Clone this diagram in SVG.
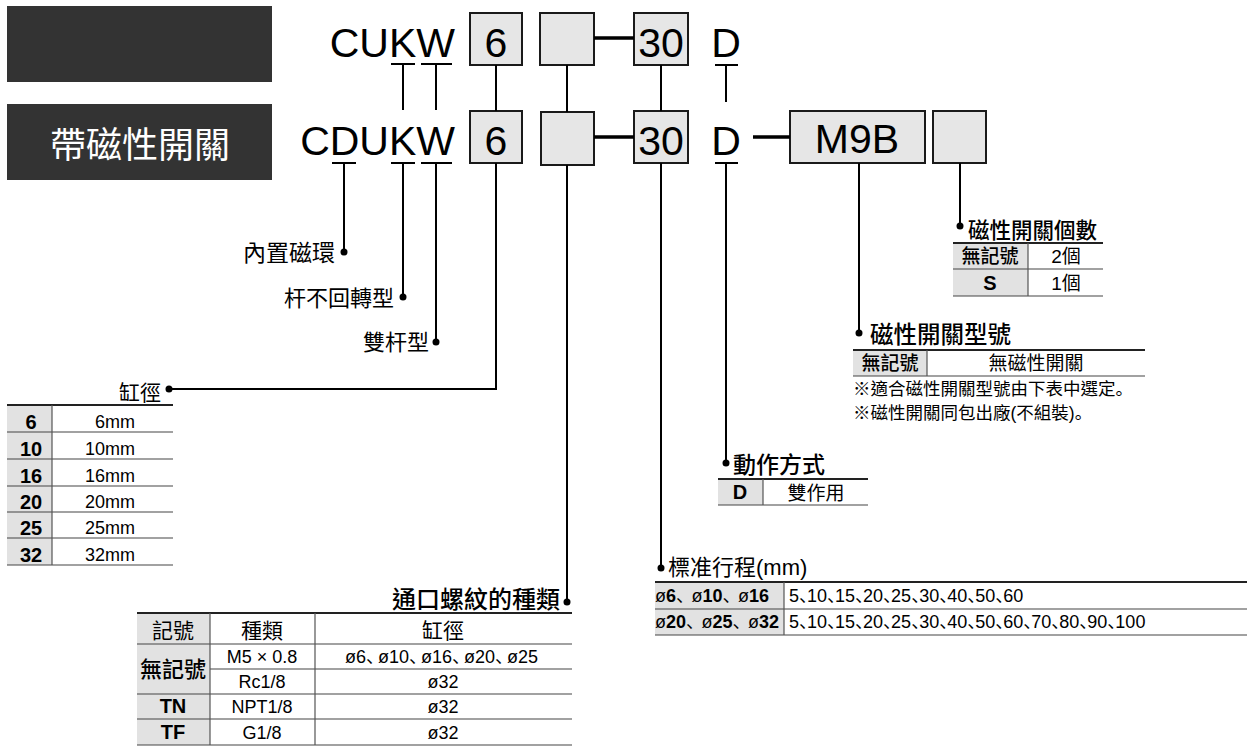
<svg xmlns="http://www.w3.org/2000/svg" width="1247" height="747" viewBox="0 0 1247 747">
<style>
text{font-family:"Liberation Sans","Noto Sans CJK TC",sans-serif;fill:#000}
.code{font-size:41px}
.lbl{font-size:22px}
.ttl{font-size:23px;font-weight:500}
.t{font-size:18px}
.tc{font-size:19px}
.tb{font-size:20px;font-weight:bold}
.b{font-weight:bold}
.k{font-weight:500}
.m{text-anchor:middle}
.e{text-anchor:end}
.cm{font-family:"Noto Sans CJK JP",sans-serif}
.c10{letter-spacing:-10px}
.c6{letter-spacing:-6px}
.c3{letter-spacing:-2.5px}
.note{font-size:17.5px}
.cn{stroke:#000;stroke-width:2;fill:none}
.thick{stroke:#000;stroke-width:3.5;fill:none}
.box{fill:#e6e6e6;stroke:#1a1a1a;stroke-width:2}
.hd{fill:#333}
.g{fill:#e2e2e2}
.top{stroke:#222;stroke-width:2.2}
.rl{stroke:#444;stroke-width:1.2}
.vl{stroke:#555;stroke-width:1.2}
.dot{fill:#000}
</style>

<g id="headers">
<rect class="hd" x="7" y="6" width="265" height="76"/>
<rect class="hd" x="7" y="104" width="265" height="76"/>
<text x="140" y="158" text-anchor="middle" style="font-size:36px;fill:#fff">帶磁性開關</text>
</g>

<g id="code-top">
<text class="code e" x="455" y="57">CUKW</text>
<rect class="box" x="470" y="13" width="52" height="52"/>
<text class="code m" x="496" y="57">6</text>
<rect class="box" x="540" y="13" width="54" height="52"/>
<rect class="box" x="634" y="13" width="54" height="52"/>
<text class="code m" x="661" y="57">30</text>
<text class="code m" x="726" y="57">D</text>
</g>

<g id="code-bottom">
<text class="code e" x="455" y="155">CDUKW</text>
<rect class="box" x="470" y="111" width="52" height="52"/>
<text class="code m" x="496" y="155">6</text>
<rect class="box" x="541" y="112" width="53" height="53"/>
<rect class="box" x="634" y="111" width="54" height="52"/>
<text class="code m" x="661" y="155">30</text>
<text class="code m" x="726" y="155">D</text>
<rect class="box" x="790" y="111" width="135" height="52"/>
<text class="code m" x="857" y="153">M9B</text>
<rect class="box" x="933" y="111" width="53" height="52"/>
</g>

<g id="connectors">
<path class="thick" d="M594 38H634 M594 137H634 M753 137H790"/>
<path class="cn" d="M391 64H415 M403 64V110 M421 64H452 M436 64V110 M496 65V111 M567 65V112 M661 65V111 M715 65H738 M726 65V102"/>
<path class="cn" d="M332 163H356 M344 163V252 M391 163H415 M403 163V297 M421 163H452 M436 163V342 M496 163V389H169 M567 165V602 M661 163V568 M715 163H738 M726 163V463 M859 163V333 M960 163V226"/>
<circle class="dot" cx="344" cy="252" r="3.5"/>
<circle class="dot" cx="403" cy="297" r="3.5"/>
<circle class="dot" cx="436" cy="342" r="3.5"/>
<circle class="dot" cx="169" cy="389" r="3.5"/>
<circle class="dot" cx="567" cy="602" r="3.5"/>
<circle class="dot" cx="661" cy="568" r="3.5"/>
<circle class="dot" cx="726" cy="463" r="3.5"/>
<circle class="dot" cx="859" cy="333" r="3.5"/>
<circle class="dot" cx="960" cy="226" r="3.5"/>
</g>

<g id="labels">
<text class="e" x="335" y="261" style="font-size:23px">內置磁環</text>
<text class="lbl e" x="394" y="306">杆不回轉型</text>
<text class="lbl e" x="429" y="350">雙杆型</text>
</g>

<g id="bore-table">
<text class="e" x="161" y="400" style="font-size:21px">缸徑</text>
<rect class="g" x="7" y="405" width="45" height="160"/>
<line class="top" x1="7" y1="405" x2="173" y2="405"/>
<path class="rl" d="M7 432H173 M7 459H173 M7 486H173 M7 512H173 M7 538H173 M7 565H173"/>
<line class="vl" x1="52" y1="405" x2="52" y2="565"/>
<g class="tb m">
<text x="31" y="429">6</text>
<text x="31" y="456">10</text>
<text x="31" y="483">16</text>
<text x="31" y="509">20</text>
<text x="31" y="535">25</text>
<text x="31" y="562">32</text>
</g>
<g class="t e">
<text x="135" y="428">6mm</text>
<text x="135" y="455">10mm</text>
<text x="135" y="482">16mm</text>
<text x="135" y="508">20mm</text>
<text x="135" y="534">25mm</text>
<text x="135" y="561">32mm</text>
</g>
</g>

<g id="port-table">
<text class="e" x="560" y="608" style="font-size:24px;font-weight:500">通口螺紋的種類</text>
<rect class="g" x="137" y="613" width="73" height="132"/>
<line class="top" x1="137" y1="613" x2="572" y2="613"/>
<path class="rl" d="M137 644H572 M210 669H572 M137 694H572 M137 719H572 M137 745H572"/>
<path class="vl" d="M210 613V745 M315 613V745"/>
<g style="font-size:21px" class="m">
<text x="173" y="638">記號</text>
<text x="262" y="638">種類</text>
<text x="443" y="638">缸徑</text>
</g>
<text class="m k" x="173" y="677" style="font-size:22px">無記號</text>
<text class="tb m" x="173" y="713">TN</text>
<text class="tb m" x="173" y="739">TF</text>
<g class="t m">
<text x="262" y="663">M5 × 0.8</text>
<text x="262" y="688">Rc1/8</text>
<text x="262" y="713">NPT1/8</text>
<text x="262" y="739">G1/8</text>
<text x="443" y="688">ø32</text>
<text x="443" y="713">ø32</text>
<text x="443" y="739">ø32</text>
</g>
<text class="t" x="345" y="663">ø6<tspan class="cm c6">、</tspan>ø10<tspan class="cm c6">、</tspan>ø16<tspan class="cm c6">、</tspan>ø20<tspan class="cm c6">、</tspan>ø25</text>
</g>

<g id="stroke-table">
<text x="668" y="575" style="font-size:22px">標准行程(mm)</text>
<rect class="g" x="655" y="582" width="129" height="53"/>
<line class="top" x1="655" y1="582" x2="1247" y2="582"/>
<path class="rl" d="M655 609H1247 M655 635H1247"/>
<line class="vl" x1="784" y1="582" x2="784" y2="635"/>
<text class="t" x="655" y="602">ø<tspan class="b">6</tspan><tspan class="cm c3">、</tspan>ø<tspan class="b">10</tspan><tspan class="cm c3">、</tspan>ø<tspan class="b">16</tspan></text>
<text class="t" x="655" y="628">ø<tspan class="b">20</tspan><tspan class="cm c3">、</tspan>ø<tspan class="b">25</tspan><tspan class="cm c3">、</tspan>ø<tspan class="b">32</tspan></text>
<text class="t" x="789" y="602">5<tspan class="cm c10">、</tspan>10<tspan class="cm c10">、</tspan>15<tspan class="cm c10">、</tspan>20<tspan class="cm c10">、</tspan>25<tspan class="cm c10">、</tspan>30<tspan class="cm c10">、</tspan>40<tspan class="cm c10">、</tspan>50<tspan class="cm c10">、</tspan>60</text>
<text class="t" x="789" y="628">5<tspan class="cm c10">、</tspan>10<tspan class="cm c10">、</tspan>15<tspan class="cm c10">、</tspan>20<tspan class="cm c10">、</tspan>25<tspan class="cm c10">、</tspan>30<tspan class="cm c10">、</tspan>40<tspan class="cm c10">、</tspan>50<tspan class="cm c10">、</tspan>60<tspan class="cm c10">、</tspan>70<tspan class="cm c10">、</tspan>80<tspan class="cm c10">、</tspan>90<tspan class="cm c10">、</tspan>100</text>
</g>

<g id="action-table">
<text class="ttl" x="733" y="473">動作方式</text>
<rect class="g" x="718" y="479" width="45" height="26"/>
<line class="top" x1="718" y1="479" x2="868" y2="479"/>
<line class="rl" x1="718" y1="505" x2="868" y2="505"/>
<line class="vl" x1="763" y1="479" x2="763" y2="505"/>
<text class="tb m" x="740" y="499">D</text>
<text class="tc m" x="816" y="500">雙作用</text>
</g>

<g id="switch-model-table">
<text class="ttl" x="870" y="343" style="font-size:23.5px">磁性開關型號</text>
<rect class="g" x="853" y="350" width="74" height="26"/>
<line class="top" x1="853" y1="350" x2="1145" y2="350"/>
<line class="rl" x1="853" y1="376" x2="1145" y2="376"/>
<line class="vl" x1="927" y1="350" x2="927" y2="376"/>
<text class="tc k m" x="890" y="370">無記號</text>
<text class="tc m" x="1036" y="370">無磁性開關</text>
<text class="note" x="853" y="395">※適合磁性開關型號由下表中選定<tspan class="cm">。</tspan></text>
<text class="note" x="853" y="419">※磁性開關同包出廠(不組裝)<tspan class="cm">。</tspan></text>
</g>

<g id="switch-count-table">
<text class="ttl" x="968" y="238" style="font-size:21.5px">磁性開關個數</text>
<rect class="g" x="953" y="243" width="75" height="53"/>
<line class="top" x1="953" y1="243" x2="1103" y2="243"/>
<path class="rl" d="M953 269H1103 M953 296H1103"/>
<line class="vl" x1="1028" y1="243" x2="1028" y2="296"/>
<text class="tc k m" x="990" y="263">無記號</text>
<text class="tc m" x="1066" y="263">2個</text>
<text class="tb m" x="990" y="290">S</text>
<text class="tc m" x="1066" y="290">1個</text>
</g>
</svg>
